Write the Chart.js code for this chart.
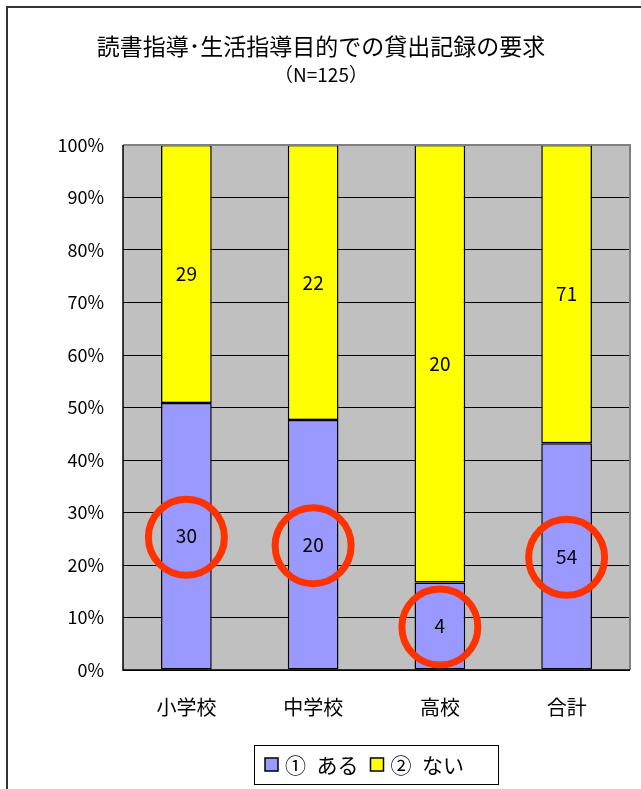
<!DOCTYPE html>
<html>
<head>
<meta charset="utf-8">
<script src="https://cdn.jsdelivr.net/npm/chart.js@4.4.0/dist/chart.umd.min.js"></script>
<style>
    html, body { margin: 0; padding: 0; background: #ffffff; }
    canvas { display: block; }
</style>
</head>
<body>
<canvas id="loanChart" width="641" height="789"></canvas>
<script>
const categories = ['小学校', '中学校', '高校', '合計'];
const yesCounts = [30, 20, 4, 54];
const noCounts = [29, 22, 20, 71];
const seriesNames = ['①\u2002ある', '②\u2002ない'];
const yTicks = [0, 10, 20, 30, 40, 50, 60, 70, 80, 90, 100];
const titleText = '読書指導\uFF65生活指導目的での貸出記録の要求';
const subtitleText = '（N=125）';

const jpFont = '"Noto Sans CJK JP", "DejaVu Sans", sans-serif';

// convert counts to percent of each category total (100% stacked)
const totals = categories.map((c, i) => yesCounts[i] + noCounts[i]);
const yesPct = yesCounts.map((v, i) => v / totals[i] * 100);
const noPct = noCounts.map((v, i) => v / totals[i] * 100);
const counts = [yesCounts, noCounts];

const framePlugin = {
    id: 'framePlugin',
    beforeDraw(chart) {
        const { ctx, chartArea } = chart;
        ctx.save();
        ctx.fillStyle = '#ffffff';
        ctx.fillRect(0, 0, chart.width, chart.height);
        // outer frame
        ctx.strokeStyle = '#333333';
        ctx.lineWidth = 2;
        ctx.strokeRect(7, 7, chart.width + 20, chart.height + 20);
        // plot background
        ctx.fillStyle = '#c0c0c0';
        ctx.fillRect(chartArea.left, chartArea.top, chartArea.right - chartArea.left, chartArea.bottom - chartArea.top);
        ctx.restore();
    },
    afterDraw(chart) {
        const { ctx, chartArea } = chart;
        ctx.save();
        // title
        ctx.fillStyle = '#000000';
        ctx.textAlign = 'center';
        ctx.textBaseline = 'middle';
        ctx.font = '23px ' + jpFont;
        ctx.fillText(titleText, 321, 46);
        ctx.font = '19px ' + jpFont;
        ctx.fillText(subtitleText, 321, 75);

        // plot border: grey top/right
        ctx.strokeStyle = '#808080';
        ctx.lineWidth = 2;
        ctx.beginPath();
        ctx.moveTo(chartArea.left, chartArea.top);
        ctx.lineTo(chartArea.right, chartArea.top);
        ctx.lineTo(chartArea.right, chartArea.bottom);
        ctx.stroke();
        ctx.strokeStyle = '#000000';
        ctx.lineWidth = 1.5;
        ctx.beginPath();
        ctx.moveTo(chartArea.left, chartArea.top);
        ctx.lineTo(chartArea.left, chartArea.bottom);
        ctx.lineTo(chartArea.right, chartArea.bottom);
        ctx.stroke();

        // legend
        const lx = 254, ly = 745, lw = 244, lh = 39;
        ctx.fillStyle = '#ffffff';
        ctx.fillRect(lx, ly, lw, lh);
        ctx.strokeStyle = '#000000';
        ctx.lineWidth = 1;
        ctx.strokeRect(lx + 0.5, ly + 0.5, lw, lh);
        ctx.font = '21px ' + jpFont;
        ctx.textAlign = 'left';
        let x = lx + 11;
        chart.data.datasets.forEach((ds) => {
            ctx.fillStyle = ds.backgroundColor;
            ctx.fillRect(x, ly + 13, 13, 13);
            ctx.strokeStyle = '#000000';
            ctx.lineWidth = 1.5;
            ctx.strokeRect(x, ly + 13, 13, 13);
            x += 20;
            ctx.fillStyle = '#000000';
            ctx.fillText(ds.label, x, ly + 20);
            x += ctx.measureText(ds.label).width + 12;
        });
        ctx.restore();
    }
};

const labelPlugin = {
    id: 'labelPlugin',
    afterDatasetsDraw(chart) {
        const { ctx } = chart;
        ctx.save();
        ctx.font = '19px ' + jpFont;
        ctx.fillStyle = '#000000';
        ctx.textAlign = 'center';
        ctx.textBaseline = 'middle';
        chart.data.datasets.forEach((ds, di) => {
            chart.getDatasetMeta(di).data.forEach((bar, i) => {
                const cy = (bar.y + bar.base) / 2;
                ctx.fillText(String(counts[di][i]), bar.x, cy);
            });
        });
        // red circles round the "ある" counts
        ctx.strokeStyle = '#ff3300';
        ctx.lineWidth = 7;
        chart.getDatasetMeta(0).data.forEach((bar) => {
            const cy = (bar.y + bar.base) / 2;
            ctx.beginPath();
            ctx.arc(bar.x, cy + 1, 38, 0, Math.PI * 2);
            ctx.stroke();
        });
        ctx.restore();
    }
};

new Chart(document.getElementById('loanChart'), {
    type: 'bar',
    data: {
        labels: categories,
        datasets: [
            {
                label: seriesNames[0],
                data: yesPct,
                backgroundColor: '#9999ff',
                borderColor: '#000000',
                borderWidth: 1.5,
                borderSkipped: false,
                barPercentage: 0.4,
                categoryPercentage: 1
            },
            {
                label: seriesNames[1],
                data: noPct,
                backgroundColor: '#ffff00',
                borderColor: '#000000',
                borderWidth: 1.5,
                borderSkipped: false,
                barPercentage: 0.4,
                categoryPercentage: 1
            }
        ]
    },
    options: {
        responsive: false,
        animation: false,
        devicePixelRatio: 1,
        layout: { padding: { top: 145, right: 11, bottom: 59, left: 0 } },
        plugins: {
            legend: { display: false },
            tooltip: { enabled: false }
        },
        scales: {
            x: {
                stacked: true,
                grid: { display: false },
                border: { display: false },
                ticks: {
                    color: '#000000',
                    padding: 17,
                    font: { size: 20, family: jpFont }
                },
                afterFit(scale) { scale.height = 60; }
            },
            y: {
                stacked: true,
                min: 0,
                max: 100,
                afterBuildTicks(scale) {
                    scale.ticks = yTicks.map(v => ({ value: v }));
                },
                grid: { color: '#000000', lineWidth: 1, drawTicks: false },
                border: { display: false },
                ticks: {
                    color: '#000000',
                    padding: 19,
                    font: { size: 18, family: jpFont },
                    callback: (v) => v + '%'
                },
                afterFit(scale) { scale.width = 123; }
            }
        }
    },
    plugins: [framePlugin, labelPlugin]
});
</script>
</body>
</html>
